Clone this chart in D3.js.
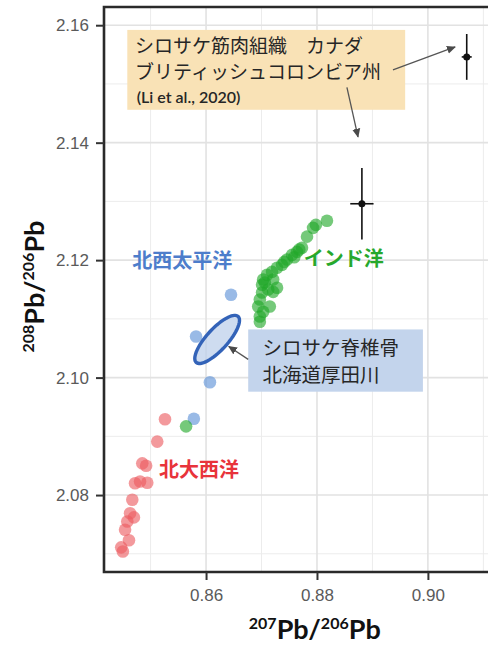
<!DOCTYPE html>
<html>
<head>
<meta charset="utf-8">
<script src="https://cdn.jsdelivr.net/npm/d3@7"></script>
<style>
  html, body { margin: 0; padding: 0; background: #ffffff; }
  svg { display: block; }
</style>
</head>
<body>
<svg id="chart" width="488" height="648"></svg>
<script>
// 207Pb/206Pb vs 208Pb/206Pb of chum salmon samples

// North Atlantic (red)
const atlanticX = [0.8526, 0.8512, 0.8485, 0.8492, 0.8481, 0.8472, 0.8494, 0.8467, 0.8463, 0.8470, 0.8458, 0.8454, 0.8461, 0.8447, 0.8450];
const atlanticY = [2.0929, 2.0891, 2.0854, 2.0850, 2.0823, 2.0820, 2.0821, 2.0792, 2.0769, 2.0762, 2.0755, 2.0741, 2.0723, 2.0711, 2.0704];

// Northwest Pacific (blue)
const pacificX = [0.8645, 0.8582, 0.8607, 0.8578];
const pacificY = [2.1141, 2.1070, 2.0992, 2.0930];

// Indian Ocean (green)
const indianX = [0.8818, 0.8798, 0.8793, 0.8782, 0.8773, 0.8764, 0.8755, 0.8746, 0.8737, 0.8728, 0.8719, 0.8710, 0.8703, 0.8701, 0.8706, 0.8721, 0.8728, 0.8721, 0.8712, 0.8701, 0.8697, 0.8694, 0.8715, 0.8703, 0.8697, 0.8697, 0.8741, 0.8759, 0.8768, 0.8564];
const indianY = [2.1267, 2.1260, 2.1255, 2.1240, 2.1221, 2.1214, 2.1209, 2.1201, 2.1192, 2.1187, 2.1180, 2.1175, 2.1167, 2.1158, 2.1162, 2.1167, 2.1153, 2.1146, 2.1150, 2.1145, 2.1133, 2.1121, 2.1121, 2.1112, 2.1104, 2.1095, 2.1197, 2.1205, 2.1218, 2.0917];

// Muscle tissue, British Columbia (Li et al., 2020): value ± error
const refX    = [0.9070, 0.8881];
const refY    = [2.1546, 2.1296];
const refXErr = [0.0009, 0.0021];
const refYErr = [0.0039, 0.0061];

// Vertebra, Atsuta River: confidence ellipse (centre, half-axis vectors)
const ellCenter = [0.8620, 2.1065];
const ellMajor  = [0.00378, 0.00391];
const ellMinor  = [0.00140, -0.00122];

// Axis ticks
const xTicks = [0.86, 0.88, 0.90];
const xMinor = [0.85, 0.87, 0.89, 0.91];
const yTicks = [2.08, 2.10, 2.12, 2.14, 2.16];
const yMinor = [2.07, 2.09, 2.11, 2.13, 2.15];

const svg = d3.select("#chart");
const panel = { left: 104, right: 500, top: 7, bottom: 572 };

const x = d3.scaleLinear().domain([0.8416, 0.9130]).range([panel.left, panel.right]);
const y = d3.scaleLinear().domain([2.0669, 2.1631]).range([panel.bottom, panel.top]);

const defs = svg.append("defs");
defs.append("clipPath").attr("id", "clip")
  .append("rect")
  .attr("x", panel.left).attr("y", panel.top)
  .attr("width", panel.right - panel.left).attr("height", panel.bottom - panel.top);

defs.append("marker")
  .attr("id", "arrow").attr("viewBox", "0 0 10 10")
  .attr("refX", 9).attr("refY", 5)
  .attr("markerWidth", 9).attr("markerHeight", 9)
  .attr("markerUnits", "userSpaceOnUse")
  .attr("orient", "auto")
  .append("path").attr("d", "M0,0.5 L10,5 L0,9.5 Z").attr("fill", "#4a4a4a");

// grid
const grid = svg.append("g").attr("clip-path", "url(#clip)");
grid.selectAll(".xmin").data(xMinor).join("line")
  .attr("x1", d => x(d)).attr("x2", d => x(d))
  .attr("y1", panel.top).attr("y2", panel.bottom)
  .attr("stroke", "#ececec").attr("stroke-width", 1);
grid.selectAll(".ymin").data(yMinor).join("line")
  .attr("y1", d => y(d)).attr("y2", d => y(d))
  .attr("x1", panel.left).attr("x2", panel.right)
  .attr("stroke", "#ececec").attr("stroke-width", 1);
grid.selectAll(".xmaj").data(xTicks).join("line")
  .attr("x1", d => x(d)).attr("x2", d => x(d))
  .attr("y1", panel.top).attr("y2", panel.bottom)
  .attr("stroke", "#e2e2e2").attr("stroke-width", 1.6);
grid.selectAll(".ymaj").data(yTicks).join("line")
  .attr("y1", d => y(d)).attr("y2", d => y(d))
  .attr("x1", panel.left).attr("x2", panel.right)
  .attr("stroke", "#e2e2e2").attr("stroke-width", 1.6);

// annotation box: muscle tissue
const plot = svg.append("g").attr("clip-path", "url(#clip)");
plot.append("rect")
  .attr("x", x(0.8458)).attr("y", y(2.1592))
  .attr("width", x(0.8959) - x(0.8458)).attr("height", y(2.1456) - y(2.1592))
  .attr("fill", "#f9e2b6");

// points
function scatter(xs, ys, color) {
  plot.append("g").selectAll("circle").data(xs).join("circle")
    .attr("cx", d => x(d)).attr("cy", (d, i) => y(ys[i]))
    .attr("r", 6.3).attr("fill", color).attr("fill-opacity", 0.62);
}
scatter(atlanticX, atlanticY, "#ec5a60");
scatter(pacificX, pacificY, "#5b8fd6");
scatter(indianX, indianY, "#21a828");

// ellipse
const ellPts = d3.range(0, 73).map(k => {
  const t = k / 72 * 2 * Math.PI;
  return [ellCenter[0] + ellMajor[0] * Math.cos(t) + ellMinor[0] * Math.sin(t),
          ellCenter[1] + ellMajor[1] * Math.cos(t) + ellMinor[1] * Math.sin(t)];
});
plot.append("path")
  .attr("d", d3.line().x(d => x(d[0])).y(d => y(d[1]))(ellPts) + "Z")
  .attr("fill", "#b9cdea").attr("fill-opacity", 0.7)
  .attr("stroke", "#3363b8").attr("stroke-width", 3.4);

// reference values with error bars
refX.forEach((vx, i) => {
  const g = plot.append("g");
  g.append("line").attr("x1", x(vx)).attr("x2", x(vx))
    .attr("y1", y(refY[i] - refYErr[i])).attr("y2", y(refY[i] + refYErr[i]))
    .attr("stroke", "#111").attr("stroke-width", 1.6);
  g.append("line").attr("y1", y(refY[i])).attr("y2", y(refY[i]))
    .attr("x1", x(vx - refXErr[i])).attr("x2", x(vx + refXErr[i]))
    .attr("stroke", "#111").attr("stroke-width", 1.6);
  g.append("circle").attr("cx", x(vx)).attr("cy", y(refY[i])).attr("r", 3.5).attr("fill", "#111");
});

// annotation box: vertebra
plot.append("rect")
  .attr("x", x(0.8676)).attr("y", y(2.1082))
  .attr("width", x(0.8991) - x(0.8676)).attr("height", y(2.0976) - y(2.1082))
  .attr("fill", "#c3d4ec");

// arrows
function arrow(x0, y0, x1, y1) {
  plot.append("line")
    .attr("x1", x(x0)).attr("y1", y(y0)).attr("x2", x(x1)).attr("y2", y(y1))
    .attr("stroke", "#555").attr("stroke-width", 1.3)
    .attr("marker-end", "url(#arrow)");
}
arrow(0.8937, 2.1524, 0.9049, 2.1563);
arrow(0.8854, 2.1494, 0.8874, 2.1410);
arrow(0.8676, 2.1031, 0.8641, 2.1053);

// text
const jp = "'Noto Sans CJK JP', sans-serif";
const boxText = plot.append("g").attr("font-family", jp).attr("fill", "#262626");
boxText.append("text").attr("x", x(0.8472)).attr("y", y(2.1553))
  .attr("font-size", 19).text("シロサケ筋肉組織　カナダ");
boxText.append("text").attr("x", x(0.8472)).attr("y", y(2.1508))
  .attr("font-size", 19).text("ブリティッシュコロンビア州");
boxText.append("text").attr("x", x(0.8475)).attr("y", y(2.1467))
  .attr("font-family", "Lato, 'Open Sans', sans-serif").attr("font-weight", 600)
  .attr("font-size", 16).text("(Li et al., 2020)");
boxText.append("text").attr("x", x(0.8702)).attr("y", y(2.1039))
  .attr("font-size", 19.5).text("シロサケ脊椎骨");
boxText.append("text").attr("x", x(0.8702)).attr("y", y(2.0992))
  .attr("font-size", 19.5).text("北海道厚田川");

const lab = plot.append("g").attr("font-family", jp).attr("font-weight", 700).attr("font-size", 20);
lab.append("text").attr("x", x(0.8467)).attr("y", y(2.1187)).attr("fill", "#4d7dcb").text("北西太平洋");
lab.append("text").attr("x", x(0.8776)).attr("y", y(2.1190)).attr("fill", "#26a82c").text("インド洋");
lab.append("text").attr("x", x(0.8515)).attr("y", y(2.0831)).attr("fill", "#e8333b").text("北大西洋");

// panel frame
svg.append("path")
  .attr("d", `M${panel.right},${panel.top} L${panel.left},${panel.top} L${panel.left},${panel.bottom} L${panel.right},${panel.bottom}`)
  .attr("fill", "none").attr("stroke", "#2a2a2a").attr("stroke-width", 2.6);

// axes
const xAxis = svg.append("g").attr("transform", `translate(0,${panel.bottom})`)
  .call(d3.axisBottom(x).tickValues(xTicks).tickFormat(d3.format(".2f")).tickSize(8).tickPadding(9));
const yAxis = svg.append("g").attr("transform", `translate(${panel.left},0)`)
  .call(d3.axisLeft(y).tickValues(yTicks).tickFormat(d3.format(".2f")).tickSize(8).tickPadding(7));
[xAxis, yAxis].forEach(a => {
  a.select(".domain").remove();
  a.selectAll(".tick line").attr("stroke", "#333").attr("stroke-width", 2);
  a.selectAll(".tick text").attr("fill", "#5a5a5a")
    .attr("font-family", "'Liberation Sans', Arial, sans-serif").attr("font-size", 17);
});

// axis titles: superscripted isotope ratios
const tf = "Lato, 'Open Sans', sans-serif";
function title(sel, top) {
  sel.attr("font-family", tf).attr("font-weight", 700).attr("fill", "#111").attr("text-anchor", "middle");
  sel.append("tspan").attr("font-size", 16).attr("dy", -10).text(top);
  sel.append("tspan").attr("font-size", 27).attr("dy", 10).text("Pb/");
  sel.append("tspan").attr("font-size", 16).attr("dy", -10).text("206");
  sel.append("tspan").attr("font-size", 27).attr("dy", 10).text("Pb");
}
title(svg.append("text").attr("x", x(0.8796)).attr("y", 639), "207");
title(svg.append("text").attr("transform", `translate(44,${y(2.1155)}) rotate(-90)`), "208");
</script>
</body>
</html>
